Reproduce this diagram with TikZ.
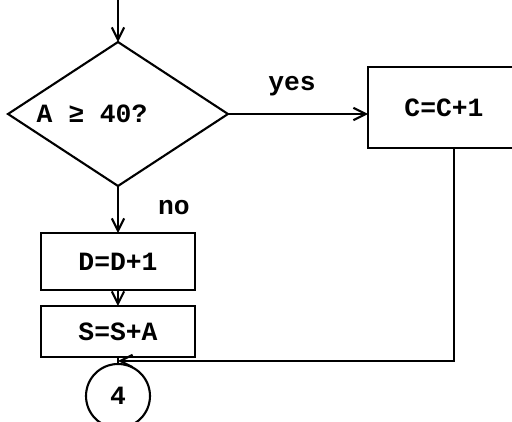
\documentclass[tikz,border=0pt]{standalone}
\usepackage{fontspec}
\setmonofont{Liberation Mono}
\usetikzlibrary{positioning}
\usetikzlibrary{arrows.meta}
\usetikzlibrary{shapes.geometric}
\tikzset{
  flow/.style={line width=1.2pt},
  arr/.style={flow,-{Straight Barb[length=7pt,width=7pt]}},
  box/.style={draw,flow,rectangle,inner sep=0pt,outer sep=0pt,font=\fcfont},
  lbl/.style={font=\fcfont,inner sep=0pt}
}
\newcommand{\fcfont}{\ttfamily\bfseries\fontsize{15}{17}\selectfont}

\begin{document}
\begin{tikzpicture}[x=0.02cm,y=-0.02cm]
      \useasboundingbox (0,0) rectangle (512,422);
      \coordinate (top) at (118,0);
      \coordinate (turn) at (454,362);
      \coordinate (join) at (118,361);
      % decision
      \node[diamond,draw,flow,inner sep=0pt,outer sep=0pt,
            minimum width=4.4cm,minimum height=2.88cm] (test) at (118,114) {};
      \node[lbl] (testtxt) at (92,114) {A ≥ 40?};
      % boxes
      \node[box,minimum width=3.04cm,minimum height=1.62cm] (incc) at (444,107.5) {C=C+1};
      \node[box,minimum width=3.08cm,minimum height=1.14cm] (incd) at (118,261.5) {D=D+1};
      \node[box,minimum width=3.08cm,minimum height=1.02cm] (adds) at (118,331.5) {S=S+A};
      \node[circle,draw,flow,minimum size=1.28cm,inner sep=0pt,font=\fcfont] (conn) at (118,396) {4};
      \node[lbl] (yes) at (292,86) {yes};
      \node[lbl] (no) at (174,208) {no};
      % connectors
      \draw[arr] (top) -- (test.north);
      \draw[arr] (test.east) -- (incc.west |- test.east);
      \draw[arr] (test.south) -- (incd.north);
      \draw[arr] (incd.south) -- (adds.north);
      \draw[arr] (incc.south -| turn) |- (join);
      \draw[flow] (adds.south) -- (conn.north);
    \end{tikzpicture}
\end{document}
